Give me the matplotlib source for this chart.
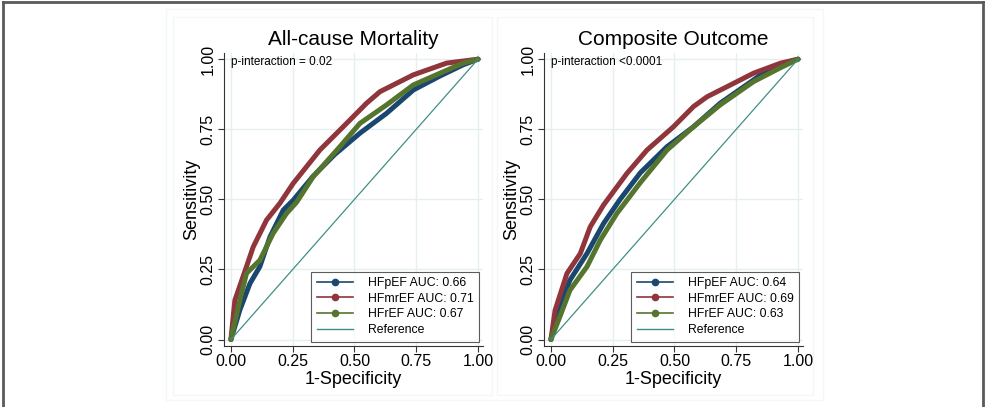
import matplotlib.pyplot as plt
from matplotlib.lines import Line2D
from matplotlib.patches import Rectangle

plt.rcParams['font.family'] = ['Liberation Sans', 'DejaVu Sans']

# ROC curves: (1-specificity, sensitivity)
mort_pef_x = [0, 0.036, 0.077, 0.117, 0.158, 0.212, 0.252, 0.33, 0.42, 0.522, 0.63, 0.738, 0.846, 0.94, 1]
mort_pef_y = [0, 0.105, 0.2, 0.26, 0.366, 0.462, 0.497, 0.58, 0.66, 0.736, 0.807, 0.89, 0.94, 0.98, 1]
mort_mref_x = [0, 0.016, 0.063, 0.09, 0.144, 0.198, 0.252, 0.36, 0.468, 0.549, 0.603, 0.738, 0.873, 1]
mort_mref_y = [0, 0.14, 0.26, 0.33, 0.426, 0.486, 0.557, 0.676, 0.771, 0.843, 0.884, 0.944, 0.986, 1]
mort_ref_x = [0, 0.036, 0.063, 0.117, 0.171, 0.225, 0.266, 0.333, 0.441, 0.522, 0.63, 0.738, 0.846, 0.94, 1]
mort_ref_y = [0, 0.14, 0.236, 0.283, 0.379, 0.45, 0.49, 0.581, 0.688, 0.771, 0.837, 0.908, 0.95, 0.986, 1]

comp_pef_x = [0, 0.036, 0.077, 0.146, 0.213, 0.28, 0.362, 0.47, 0.577, 0.685, 0.82, 0.89, 1]
comp_pef_y = [0, 0.117, 0.212, 0.307, 0.414, 0.5, 0.595, 0.688, 0.759, 0.843, 0.926, 0.97, 1]
comp_mref_x = [0, 0.017, 0.065, 0.119, 0.159, 0.213, 0.308, 0.389, 0.496, 0.577, 0.632, 0.713, 0.82, 0.93, 1]
comp_mref_y = [0, 0.105, 0.236, 0.307, 0.402, 0.48, 0.593, 0.676, 0.759, 0.831, 0.866, 0.902, 0.95, 0.986, 1]
comp_ref_x = [0, 0.036, 0.077, 0.146, 0.2, 0.267, 0.362, 0.47, 0.577, 0.685, 0.82, 0.93, 1]
comp_ref_y = [0, 0.081, 0.176, 0.26, 0.355, 0.45, 0.56, 0.676, 0.759, 0.837, 0.92, 0.97, 1]

titles = ['All-cause Mortality', 'Composite Outcome']
p_texts = ['p-interaction = 0.02', 'p-interaction <0.0001']
auc_labels = [['HFpEF AUC: 0.66', 'HFmrEF AUC: 0.71', 'HFrEF AUC: 0.67', 'Reference'],
              ['HFpEF AUC: 0.64', 'HFmrEF AUC: 0.69', 'HFrEF AUC: 0.63', 'Reference']]
ticks = [0, 0.25, 0.5, 0.75, 1.0]
tick_labels = ['0.00', '0.25', '0.50', '0.75', '1.00']

navy = '#1a476f'
maroon = '#90353b'
green = '#55752f'
teal = '#3f8f87'

panels = [
    [(mort_pef_x, mort_pef_y), (mort_mref_x, mort_mref_y), (mort_ref_x, mort_ref_y)],
    [(comp_pef_x, comp_pef_y), (comp_mref_x, comp_mref_y), (comp_ref_x, comp_ref_y)],
]

W, H = 985, 407
fig = plt.figure(figsize=(9.85, 4.07), dpi=100)

# faint stata graph-region boxes and outer frame
def px_rect(x0, y0, x1, y1, **kw):
    fig.patches.append(Rectangle((x0 / W, 1 - y1 / H), (x1 - x0) / W, (y1 - y0) / H,
                                 transform=fig.transFigure, fill=False, zorder=-5, **kw))

px_rect(166, 9, 823, 400, edgecolor='#f3f7f7', lw=1)
px_rect(173, 17, 492, 395, edgecolor='#f3f7f7', lw=1)
px_rect(497, 17, 813, 395, edgecolor='#f3f7f7', lw=1)
for xs, ys in [((3, 3), (2, 407)), ((3, 983), (2, 2)), ((983, 983), (2, 407))]:
    fig.lines.append(Line2D([x / W for x in xs], [1 - y / H for y in ys],
                            transform=fig.transFigure, color='#5a5a5a', lw=2))

lefts = [224, 544]
for i in range(2):
    ax = fig.add_axes([lefts[i] / W, 1 - 346 / H, 259 / W, 293 / H])
    ax.patch.set_alpha(0)
    ax.set_xlim(-0.028, 1.02)
    ax.set_ylim(-0.023, 1.022)
    ax.set_xticks(ticks)
    ax.set_xticklabels(tick_labels, fontsize=11.5)
    ax.set_yticks(ticks)
    ax.set_yticklabels(tick_labels, fontsize=11.5, rotation=90, va='center')
    ax.grid(True, color='#e6eff0', lw=1)
    ax.set_axisbelow(True)
    for s in ['top', 'right']:
        ax.spines[s].set_visible(False)
    for s in ['left', 'bottom']:
        ax.spines[s].set_color('#333333')
        ax.spines[s].set_linewidth(0.8)
    ax.tick_params(direction='out', length=4, width=0.8, color='#333333', pad=2)

    cols = [navy, maroon, green]
    for (xs, ys), c in zip(panels[i], cols):
        ax.plot(xs, ys, color=c, lw=3.6, solid_joinstyle='round', solid_capstyle='round')
    ax.plot([0, 1], [0, 1], color=teal, lw=0.9)

    ax.set_title(titles[i], fontsize=15, pad=6)
    ax.set_xlabel('1-Specificity', fontsize=13, labelpad=1)
    ax.set_ylabel('Sensitivity', fontsize=13, labelpad=0)
    ax.text(0.0, 0.99, p_texts[i], fontsize=8.5, va='center', ha='left')

    handles = [Line2D([], [], color=c, marker='o', markersize=4.5, lw=1.2) for c in cols]
    handles.append(Line2D([], [], color=teal, lw=1.0))
    leg = ax.legend(handles, auc_labels[i], loc='lower right', bbox_to_anchor=(0.986, 0.015),
                    fontsize=8.8, frameon=True, fancybox=False, edgecolor='#333333',
                    borderpad=0.45, labelspacing=0.3, handlelength=3.0, handletextpad=1.2,
                    borderaxespad=0)
    leg.get_frame().set_linewidth(0.8)

fig.savefig('out.png', dpi=100)
